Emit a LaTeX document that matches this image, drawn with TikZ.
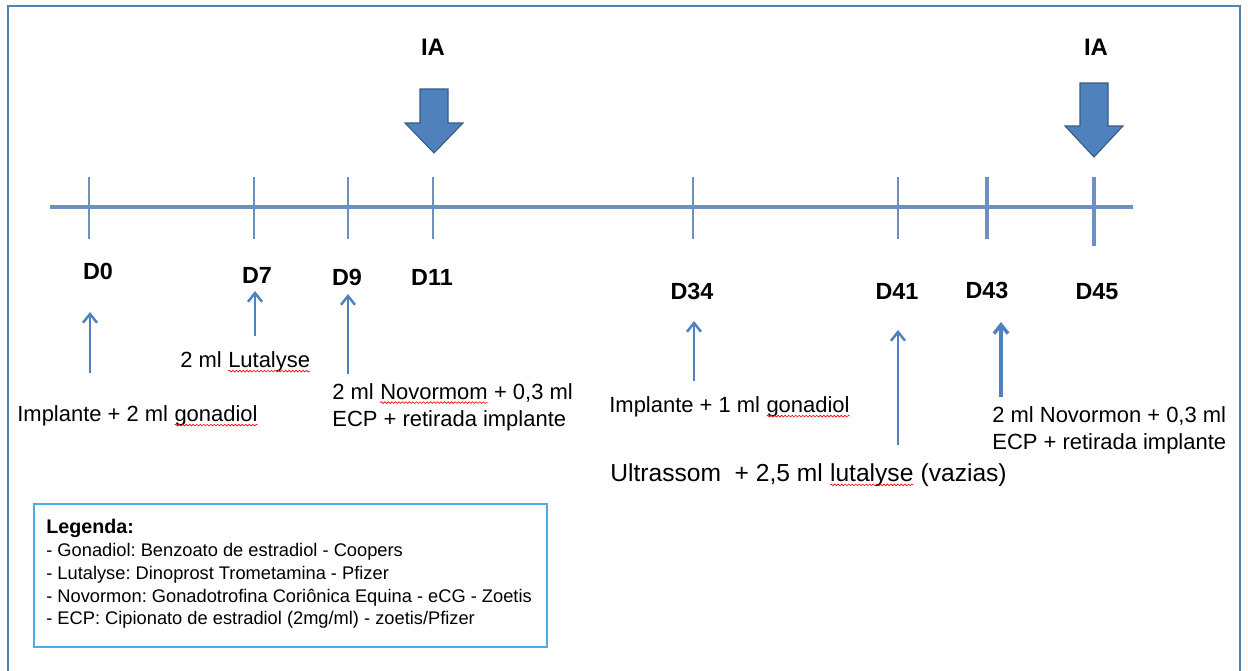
\documentclass[tikz,border=0pt]{standalone}
\usepackage{fontspec}
\setmainfont{Liberation Sans}
\usetikzlibrary{arrows.meta,decorations.pathmorphing}
\definecolor{tlblue}{RGB}{79,129,189}
\definecolor{tlline}{RGB}{108,144,196}
\definecolor{legblue}{RGB}{75,172,230}
\frenchspacing
\newcommand\spellwave[1]{\tikz[baseline=(sw.base)]{\node[inner sep=0pt,outer sep=0pt,anchor=base] (sw) {#1};
	\draw[red,line width=0.35pt,decorate,decoration={snake,amplitude=0.5pt,segment length=2pt}]
		([yshift=-2pt]sw.base west) -- ([yshift=-2pt]sw.base east);}}
\begin{document}
\begin{tikzpicture}
		[x=0.02cm,y=-0.02cm,
		txt/.style={anchor=west,align=left,inner sep=0pt,
			font=\fontsize{12.5}{15.5}\selectfont},
		day/.style={inner sep=0pt,
			font=\bfseries\fontsize{13.3}{15}\selectfont},
		daytick/.style={draw=tlline,line width=1.4pt},
		uparrow/.style={draw=tlblue,line width=1.4pt,
			-{Straight Barb[length=5pt,width=8pt]}},
		iaarrow/.style={fill=tlblue,draw=tlblue!70!black,line width=0.6pt}
		]
		\useasboundingbox (0,0) rectangle (1248,670);
		\draw[tlblue,line width=1.2pt] (8,690) -- (8,6) -- (1240,6) -- (1240,690);
		\coordinate (tl0) at (50,207);
		\coordinate (tl1) at (1133,207);
		\draw[tlline,line width=2.3pt] (tl0) -- (tl1);
		\foreach \n/\x/\ylo/\w in {0/89/239/1.4pt,7/254/239/1.4pt,9/348/239/1.4pt,
			11/433/239/1.4pt,34/693/239/1.4pt,41/898/239/1.4pt,43/987/239/2pt,45/1094/246/2pt}
			\draw[daytick,line width=\w] (\x,177) coordinate (tk\n) -- (\x,\ylo);
		\node[day] (d0) at (98,271) {D0};
		\node[day] (d7) at (257,275) {D7};
		\node[day] (d9) at (347,277) {D9};
		\node[day] (d11) at (432,277) {D11};
		\node[day] (d34) at (692,291) {D34};
		\node[day] (d41) at (897,291) {D41};
		\node[day] (d43) at (987,290) {D43};
		\node[day] (d45) at (1097,292) {D45};
		\node[day,font=\bfseries\fontsize{13.6}{15}\selectfont] (ia11) at (433,47) {IA};
		\node[day,font=\bfseries\fontsize{13.6}{15}\selectfont] (ia45) at (1096,47) {IA};
		\foreach \x/\yt/\yb/\yp in {434/89/123/153,1094/83/126/157}
			\filldraw[iaarrow] (\x-14,\yt) -- (\x+14,\yt) -- (\x+14,\yb) -- (\x+29,\yb)
				-- (\x,\yp) -- (\x-29,\yb) -- (\x-14,\yb) -- cycle;
		\foreach \n/\x/\yt/\yh/\w in {0/90/373/312/1.4pt,7/255/336/291/1.4pt,
			9/348/374/294/1.4pt,34/694/381/321/1.4pt,41/898/445/330/1.4pt,43/1001/397/322/2pt}
		{
			\coordinate (t\n) at (\x,\yt);
			\coordinate (h\n) at (\x,\yh);
			\draw[uparrow,line width=\w] (t\n) -- (h\n);
		}
		\node[txt] (imp0) at (17,416) {Implante + 2 ml \spellwave{gonadiol}};
		\node[txt] (lut7) at (180,362) {2 ml \spellwave{Lutalyse}};
		\node[txt] (nov9) at (332,407) {2 ml \spellwave{Novormom} + 0,3 ml\\ECP + retirada implante};
		\node[txt] (imp34) at (609,407) {Implante + 1 ml \spellwave{gonadiol}};
		\node[txt,font=\fontsize{14}{17}\selectfont] (us41) at (610,475)
			{Ultrassom\ \ + 2,5 ml \spellwave{lutalyse} (vazias)};
		\node[txt] (nov43) at (992,430) {2 ml Novormon + 0,3 ml\\ECP + retirada implante};
		\node[draw=legblue,line width=0.9pt,minimum width=10.26cm,minimum height=2.86cm,
			inner sep=0pt] (legbox) at (290.5,575.5) {};
		\node[anchor=north west,align=left,inner sep=0pt,
			font=\fontsize{10.4}{13}\selectfont] (legtxt) at (46,519)
			{{\bfseries\fontsize{11.2}{13}\selectfont Legenda:}\\
			- Gonadiol: Benzoato de estradiol - Coopers\\
			- Lutalyse: Dinoprost Trometamina - Pfizer\\
			- Novormon: Gonadotrofina Coriônica Equina - eCG - Zoetis\\
			- ECP: Cipionato de estradiol (2mg/ml) - zoetis/Pfizer};
	\end{tikzpicture}
\end{document}
